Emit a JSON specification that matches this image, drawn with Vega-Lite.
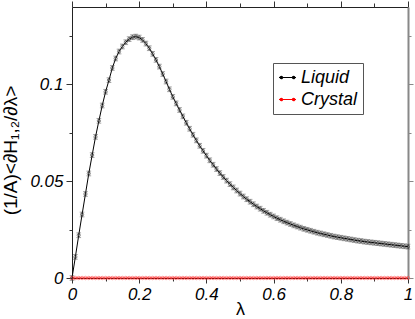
{
  "$schema": "https://vega.github.io/schema/vega-lite/v6.json",
  "width": 336,
  "height": 271,
  "autosize": "none",
  "padding": {"left": 72, "top": 7, "right": 7, "bottom": 41},
  "background": "white",
  "config": {
    "view": {"stroke": null},
    "axis": {
      "labelFont": "Liberation Sans",
      "labelFontStyle": "italic",
      "labelFontSize": 17,
      "labelColor": "black",
      "labelFlush": false,
      "labelOverlap": false,
      "tickColor": "#333",
      "domainColor": "#222",
      "grid": false,
      "titleFont": "Liberation Sans",
      "titleFontSize": 19,
      "titleFontWeight": "normal",
      "titleColor": "black"
    },
    "legend": {
      "orient": "none",
      "legendX": 201,
      "legendY": 56,
      "strokeColor": "#555",
      "fillColor": "white",
      "padding": 5,
      "rowPadding": 3,
      "labelFont": "Liberation Sans",
      "labelFontStyle": "italic",
      "labelFontSize": 18,
      "labelColor": "black",
      "labelOffset": 4,
      "symbolType": "M-1,0L1,0M-0.86,0A0.14,0.14 0 1,1 -0.58,0A0.14,0.14 0 1,1 -0.86,0M0.58,0A0.14,0.14 0 1,1 0.86,0A0.14,0.14 0 1,1 0.58,0",
      "symbolSize": 289,
      "symbolStrokeWidth": 1.2,
      "symbolFillColor": "white"
    }
  },
  "data": {"values": [
    {"s":"Liquid","x":0,"y":0},{"s":"Liquid","x":0.01,"y":0.0109},{"s":"Liquid","x":0.02,"y":0.0221},{"s":"Liquid","x":0.03,"y":0.0328},{"s":"Liquid","x":0.04,"y":0.0434},
    {"s":"Liquid","x":0.05,"y":0.054},{"s":"Liquid","x":0.06,"y":0.0635},{"s":"Liquid","x":0.07,"y":0.0729},{"s":"Liquid","x":0.08,"y":0.0812},{"s":"Liquid","x":0.09,"y":0.0891},
    {"s":"Liquid","x":0.1,"y":0.0962},{"s":"Liquid","x":0.11,"y":0.1022},{"s":"Liquid","x":0.12,"y":0.1085},{"s":"Liquid","x":0.13,"y":0.1134},{"s":"Liquid","x":0.14,"y":0.117},
    {"s":"Liquid","x":0.15,"y":0.1196},{"s":"Liquid","x":0.16,"y":0.1218},{"s":"Liquid","x":0.17,"y":0.1234},{"s":"Liquid","x":0.18,"y":0.1244},{"s":"Liquid","x":0.19,"y":0.1247},
    {"s":"Liquid","x":0.2,"y":0.1242},{"s":"Liquid","x":0.21,"y":0.123},{"s":"Liquid","x":0.22,"y":0.1211},{"s":"Liquid","x":0.23,"y":0.1187},{"s":"Liquid","x":0.24,"y":0.1158},
    {"s":"Liquid","x":0.25,"y":0.1127},{"s":"Liquid","x":0.26,"y":0.1092},{"s":"Liquid","x":0.27,"y":0.1054},{"s":"Liquid","x":0.28,"y":0.1015},{"s":"Liquid","x":0.29,"y":0.0975},
    {"s":"Liquid","x":0.3,"y":0.0936},{"s":"Liquid","x":0.31,"y":0.0902},{"s":"Liquid","x":0.32,"y":0.0868},{"s":"Liquid","x":0.33,"y":0.0835},{"s":"Liquid","x":0.34,"y":0.0802},
    {"s":"Liquid","x":0.35,"y":0.0771},{"s":"Liquid","x":0.36,"y":0.074},{"s":"Liquid","x":0.37,"y":0.0711},{"s":"Liquid","x":0.38,"y":0.0683},{"s":"Liquid","x":0.39,"y":0.0657},
    {"s":"Liquid","x":0.4,"y":0.0632},{"s":"Liquid","x":0.41,"y":0.0608},{"s":"Liquid","x":0.42,"y":0.0585},{"s":"Liquid","x":0.43,"y":0.0563},{"s":"Liquid","x":0.44,"y":0.0542},
    {"s":"Liquid","x":0.45,"y":0.0522},{"s":"Liquid","x":0.46,"y":0.0503},{"s":"Liquid","x":0.47,"y":0.0485},{"s":"Liquid","x":0.48,"y":0.0468},{"s":"Liquid","x":0.49,"y":0.0452},
    {"s":"Liquid","x":0.5,"y":0.0436},{"s":"Liquid","x":0.51,"y":0.0421},{"s":"Liquid","x":0.52,"y":0.0407},{"s":"Liquid","x":0.53,"y":0.0394},{"s":"Liquid","x":0.54,"y":0.0381},
    {"s":"Liquid","x":0.55,"y":0.0369},{"s":"Liquid","x":0.56,"y":0.0358},{"s":"Liquid","x":0.57,"y":0.0347},{"s":"Liquid","x":0.58,"y":0.0337},{"s":"Liquid","x":0.59,"y":0.0327},
    {"s":"Liquid","x":0.6,"y":0.0318},{"s":"Liquid","x":0.61,"y":0.0309},{"s":"Liquid","x":0.62,"y":0.0301},{"s":"Liquid","x":0.63,"y":0.0293},{"s":"Liquid","x":0.64,"y":0.0286},
    {"s":"Liquid","x":0.65,"y":0.0279},{"s":"Liquid","x":0.66,"y":0.0272},{"s":"Liquid","x":0.67,"y":0.0266},{"s":"Liquid","x":0.68,"y":0.026},{"s":"Liquid","x":0.69,"y":0.0254},
    {"s":"Liquid","x":0.7,"y":0.0249},{"s":"Liquid","x":0.71,"y":0.0244},{"s":"Liquid","x":0.72,"y":0.0239},{"s":"Liquid","x":0.73,"y":0.0234},{"s":"Liquid","x":0.74,"y":0.023},
    {"s":"Liquid","x":0.75,"y":0.0226},{"s":"Liquid","x":0.76,"y":0.0222},{"s":"Liquid","x":0.77,"y":0.0218},{"s":"Liquid","x":0.78,"y":0.0214},{"s":"Liquid","x":0.79,"y":0.0211},
    {"s":"Liquid","x":0.8,"y":0.0208},{"s":"Liquid","x":0.81,"y":0.0205},{"s":"Liquid","x":0.82,"y":0.0202},{"s":"Liquid","x":0.83,"y":0.0199},{"s":"Liquid","x":0.84,"y":0.0196},
    {"s":"Liquid","x":0.85,"y":0.0193},{"s":"Liquid","x":0.86,"y":0.0191},{"s":"Liquid","x":0.87,"y":0.0188},{"s":"Liquid","x":0.88,"y":0.0186},{"s":"Liquid","x":0.89,"y":0.0184},
    {"s":"Liquid","x":0.9,"y":0.0182},{"s":"Liquid","x":0.91,"y":0.018},{"s":"Liquid","x":0.92,"y":0.0178},{"s":"Liquid","x":0.93,"y":0.0176},{"s":"Liquid","x":0.94,"y":0.0174},
    {"s":"Liquid","x":0.95,"y":0.0172},{"s":"Liquid","x":0.96,"y":0.017},{"s":"Liquid","x":0.97,"y":0.0168},{"s":"Liquid","x":0.98,"y":0.0166},{"s":"Liquid","x":0.99,"y":0.0164},
    {"s":"Liquid","x":1,"y":0.0162},
    {"s":"Crystal","x":0,"y":0},{"s":"Crystal","x":0.01,"y":0},{"s":"Crystal","x":0.02,"y":0},{"s":"Crystal","x":0.03,"y":0},{"s":"Crystal","x":0.04,"y":0},
    {"s":"Crystal","x":0.05,"y":0},{"s":"Crystal","x":0.06,"y":0},{"s":"Crystal","x":0.07,"y":0},{"s":"Crystal","x":0.08,"y":0},{"s":"Crystal","x":0.09,"y":0},
    {"s":"Crystal","x":0.1,"y":0},{"s":"Crystal","x":0.11,"y":0},{"s":"Crystal","x":0.12,"y":0},{"s":"Crystal","x":0.13,"y":0},{"s":"Crystal","x":0.14,"y":0},
    {"s":"Crystal","x":0.15,"y":0},{"s":"Crystal","x":0.16,"y":0},{"s":"Crystal","x":0.17,"y":0},{"s":"Crystal","x":0.18,"y":0},{"s":"Crystal","x":0.19,"y":0},
    {"s":"Crystal","x":0.2,"y":0},{"s":"Crystal","x":0.21,"y":0},{"s":"Crystal","x":0.22,"y":0},{"s":"Crystal","x":0.23,"y":0},{"s":"Crystal","x":0.24,"y":0},
    {"s":"Crystal","x":0.25,"y":0},{"s":"Crystal","x":0.26,"y":0},{"s":"Crystal","x":0.27,"y":0},{"s":"Crystal","x":0.28,"y":0},{"s":"Crystal","x":0.29,"y":0},
    {"s":"Crystal","x":0.3,"y":0},{"s":"Crystal","x":0.31,"y":0},{"s":"Crystal","x":0.32,"y":0},{"s":"Crystal","x":0.33,"y":0},{"s":"Crystal","x":0.34,"y":0},
    {"s":"Crystal","x":0.35,"y":0},{"s":"Crystal","x":0.36,"y":0},{"s":"Crystal","x":0.37,"y":0},{"s":"Crystal","x":0.38,"y":0},{"s":"Crystal","x":0.39,"y":0},
    {"s":"Crystal","x":0.4,"y":0},{"s":"Crystal","x":0.41,"y":0},{"s":"Crystal","x":0.42,"y":0},{"s":"Crystal","x":0.43,"y":0},{"s":"Crystal","x":0.44,"y":0},
    {"s":"Crystal","x":0.45,"y":0},{"s":"Crystal","x":0.46,"y":0},{"s":"Crystal","x":0.47,"y":0},{"s":"Crystal","x":0.48,"y":0},{"s":"Crystal","x":0.49,"y":0},
    {"s":"Crystal","x":0.5,"y":0},{"s":"Crystal","x":0.51,"y":0},{"s":"Crystal","x":0.52,"y":0},{"s":"Crystal","x":0.53,"y":0},{"s":"Crystal","x":0.54,"y":0},
    {"s":"Crystal","x":0.55,"y":0},{"s":"Crystal","x":0.56,"y":0},{"s":"Crystal","x":0.57,"y":0},{"s":"Crystal","x":0.58,"y":0},{"s":"Crystal","x":0.59,"y":0},
    {"s":"Crystal","x":0.6,"y":0},{"s":"Crystal","x":0.61,"y":0},{"s":"Crystal","x":0.62,"y":0},{"s":"Crystal","x":0.63,"y":0},{"s":"Crystal","x":0.64,"y":0},
    {"s":"Crystal","x":0.65,"y":0},{"s":"Crystal","x":0.66,"y":0},{"s":"Crystal","x":0.67,"y":0},{"s":"Crystal","x":0.68,"y":0},{"s":"Crystal","x":0.69,"y":0},
    {"s":"Crystal","x":0.7,"y":0},{"s":"Crystal","x":0.71,"y":0},{"s":"Crystal","x":0.72,"y":0},{"s":"Crystal","x":0.73,"y":0},{"s":"Crystal","x":0.74,"y":0},
    {"s":"Crystal","x":0.75,"y":0},{"s":"Crystal","x":0.76,"y":0},{"s":"Crystal","x":0.77,"y":0},{"s":"Crystal","x":0.78,"y":0},{"s":"Crystal","x":0.79,"y":0},
    {"s":"Crystal","x":0.8,"y":0},{"s":"Crystal","x":0.81,"y":0},{"s":"Crystal","x":0.82,"y":0},{"s":"Crystal","x":0.83,"y":0},{"s":"Crystal","x":0.84,"y":0},
    {"s":"Crystal","x":0.85,"y":0},{"s":"Crystal","x":0.86,"y":0},{"s":"Crystal","x":0.87,"y":0},{"s":"Crystal","x":0.88,"y":0},{"s":"Crystal","x":0.89,"y":0},
    {"s":"Crystal","x":0.9,"y":0},{"s":"Crystal","x":0.91,"y":0},{"s":"Crystal","x":0.92,"y":0},{"s":"Crystal","x":0.93,"y":0},{"s":"Crystal","x":0.94,"y":0},
    {"s":"Crystal","x":0.95,"y":0},{"s":"Crystal","x":0.96,"y":0},{"s":"Crystal","x":0.97,"y":0},{"s":"Crystal","x":0.98,"y":0},{"s":"Crystal","x":0.99,"y":0},
    {"s":"Crystal","x":1,"y":0}
  ]},
  "resolve": {"axis": {"x": "independent", "y": "independent"}},
  "layer": [
    {
      "mark": {"type": "line", "strokeWidth": 1},
      "encoding": {
        "x": {"field": "x", "type": "quantitative", "scale": {"domain": [0, 1], "nice": false, "zero": false},
          "axis": {"orient": "bottom", "values": [0, 0.2, 0.4, 0.6, 0.8, 1], "format": "~g", "tickSize": 5, "labelPadding": 3, "domain": true, "title": "λ", "titleFontSize": 18, "titleX": 168, "titleY": 31, "titleBaseline": "middle"}},
        "y": {"field": "y", "type": "quantitative", "scale": {"domain": [0, 0.14], "nice": false, "zero": false},
          "axis": {"orient": "left", "values": [0, 0.05, 0.1], "format": "~g", "tickSize": 6, "labelPadding": 3, "domain": true, "title": "(1/A)<∂H₁,₂/∂λ>", "titleX": -62, "titleY": 143, "titleAngle": -90, "titleAlign": "center", "titleBaseline": "middle"}},
        "stroke": {"field": "s", "type": "nominal", "scale": {"domain": ["Liquid", "Crystal"], "range": ["black", "red"]},
          "legend": {"title": null}},
        "detail": {"field": "s"}
      }
    },
    {
      "transform": [{"filter": "datum.s === 'Liquid'"}],
      "mark": {"type": "point", "shape": "M-1,-1L1,-1M0,-1L0,1M-1,1L1,1", "size": 22, "stroke": "#444", "strokeWidth": 0.7, "filled": false},
      "encoding": {
        "x": {"field": "x", "type": "quantitative", "axis": {"orient": "bottom", "values": [0.1, 0.3, 0.5, 0.7, 0.9], "labels": false, "tickSize": 3, "domain": false, "title": null}},
        "y": {"field": "y", "type": "quantitative", "axis": {"orient": "left", "values": [0.025, 0.075, 0.125], "labels": false, "tickSize": 3, "domain": false, "title": null}}
      }
    },
    {
      "transform": [{"filter": "datum.s === 'Liquid'"}],
      "mark": {"type": "point", "shape": "circle", "size": 10, "stroke": "black", "strokeWidth": 0.7, "filled": false},
      "encoding": {
        "x": {"field": "x", "type": "quantitative", "axis": {"orient": "top", "values": [0, 0.2, 0.4, 0.6, 0.8, 1], "labels": false, "tickSize": 6, "domain": true, "title": null}},
        "y": {"field": "y", "type": "quantitative", "axis": {"orient": "right", "values": [0, 0.05, 0.1], "labels": false, "tickSize": 5, "domain": true, "domainColor": "#888", "domainWidth": 2, "tickColor": "#888", "title": null}}
      }
    },
    {
      "transform": [{"filter": "datum.s === 'Crystal'"}],
      "mark": {"type": "point", "shape": "circle", "size": 12, "stroke": "#ff4040", "strokeWidth": 0.8, "filled": false},
      "encoding": {
        "x": {"field": "x", "type": "quantitative", "axis": {"orient": "top", "values": [0.1, 0.3, 0.5, 0.7, 0.9], "labels": false, "tickSize": 4, "domain": false, "title": null}},
        "y": {"field": "y", "type": "quantitative", "axis": {"orient": "right", "values": [0.025, 0.075, 0.125], "labels": false, "tickSize": 3, "domain": false, "tickColor": "#888", "title": null}}
      }
    }
  ]
}
